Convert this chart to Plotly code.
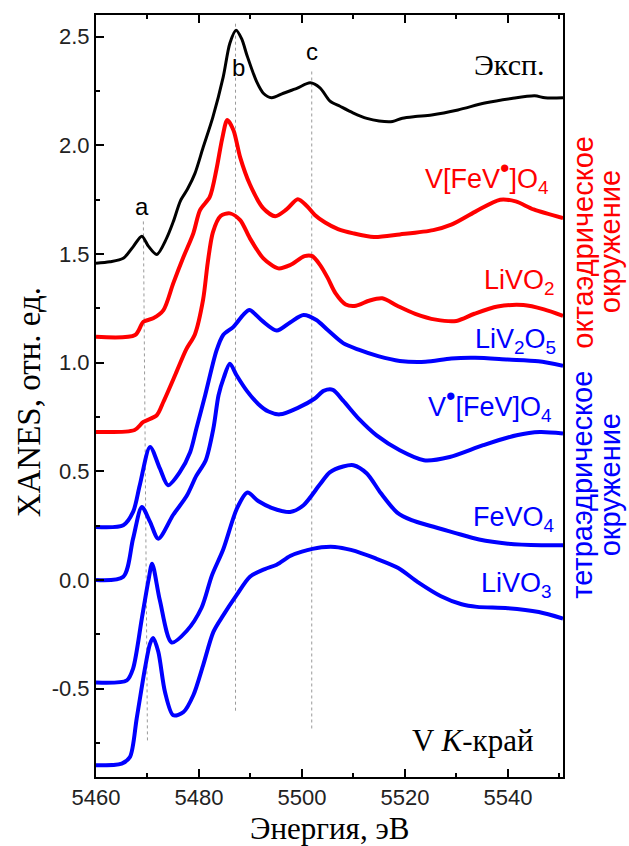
import plotly.graph_objects as go

# ---------------- spectra (energy in eV, normalised XANES, stacked) ----------------
e_exp = [5460, 5462.7, 5465.3, 5467.2, 5468.9, 5470.2, 5471.8, 5473.7, 5475.0, 5476.4,
         5477.8, 5479.2, 5480.8, 5482.7, 5484.7, 5486.0, 5487.2, 5488.3, 5489.3, 5491.2,
         5492.5, 5494.1, 5496.4, 5499.0, 5501.6, 5503.5, 5505.4, 5507.4, 5509.9, 5512.6,
         5515.0, 5517.6, 5519.5, 5522.0, 5525.2, 5530.3, 5535.5, 5540.7, 5545.2, 5547.2, 5550.7]
y_exp = [1.457, 1.464, 1.480, 1.533, 1.582, 1.535, 1.498, 1.572, 1.648, 1.745,
         1.800, 1.870, 1.990, 2.130, 2.314, 2.470, 2.530, 2.490, 2.416, 2.293,
         2.240, 2.219, 2.240, 2.262, 2.288, 2.265, 2.205, 2.180, 2.150, 2.124,
         2.112, 2.110, 2.125, 2.133, 2.140, 2.163, 2.195, 2.216, 2.228, 2.219, 2.219]

e_vfev_oct = [5460, 5467.6, 5469.2, 5471.1, 5473.1, 5475.0, 5477.0, 5478.9, 5480.2, 5482.1,
              5483.4, 5484.5, 5485.5, 5486.7, 5488.0, 5489.9, 5492.5, 5494.8, 5497.0, 5499.2,
              5501.0, 5502.5, 5504.5, 5507.0, 5510.0, 5514.0, 5519.0, 5525.5, 5529.0, 5533.6,
              5538.5, 5541.5, 5545.0, 5550.7]
y_vfev_oct = [1.119, 1.127, 1.188, 1.204, 1.242, 1.365, 1.487, 1.595, 1.702, 1.763,
              1.890, 2.030, 2.117, 2.070, 1.945, 1.820, 1.710, 1.674, 1.705, 1.752,
              1.720, 1.680, 1.645, 1.615, 1.595, 1.578, 1.590, 1.610, 1.635, 1.694,
              1.750, 1.742, 1.705, 1.665]

e_livo2 = [5460, 5467.5, 5469.2, 5471.8, 5473.1, 5475.5, 5477.5, 5479.2, 5480.8, 5481.7,
           5482.7, 5484.2, 5486.0, 5488.0, 5489.9, 5492.5, 5495.4, 5497.7, 5500.5, 5502.0,
           5503.5, 5505.0, 5506.5, 5508.5, 5510.5, 5513.0, 5515.6, 5518.5, 5522.0, 5526.0,
           5530.0, 5533.5, 5538.0, 5543.0, 5547.0, 5550.7]
y_livo2 = [0.681, 0.690, 0.727, 0.758, 0.820, 0.950, 1.060, 1.130, 1.290, 1.460,
           1.600, 1.675, 1.687, 1.656, 1.572, 1.480, 1.434, 1.449, 1.490, 1.490,
           1.450, 1.390, 1.320, 1.268, 1.262, 1.285, 1.296, 1.262, 1.225, 1.198,
           1.192, 1.225, 1.258, 1.265, 1.245, 1.215]

e_liv2o5 = [5460, 5465.3, 5467.2, 5468.5, 5470.5, 5472.4, 5474.0, 5476.3, 5478.3, 5479.5,
            5481.2, 5483.4, 5484.7, 5486.7, 5488.6, 5489.8, 5492.3, 5495.1, 5497.7, 5500.3,
            5502.8, 5505.0, 5508.0, 5511.0, 5514.8, 5519.0, 5524.0, 5529.0, 5533.6, 5540.0,
            5545.9, 5550.7]
y_liv2o5 = [0.244, 0.252, 0.313, 0.436, 0.612, 0.513, 0.436, 0.497, 0.589, 0.697,
            0.850, 1.055, 1.127, 1.165, 1.220, 1.242, 1.192, 1.148, 1.185, 1.219,
            1.196, 1.150, 1.090, 1.060, 1.030, 1.008, 1.004, 1.019, 1.022, 1.014,
            1.006, 0.985]

e_vfev_tet = [5460, 5465.3, 5467.2, 5468.9, 5470.5, 5472.1, 5475.0, 5477.6, 5479.5, 5481.3,
              5482.8, 5483.8, 5484.8, 5486.0, 5487.3, 5489.3, 5491.5, 5493.5, 5495.7, 5499.3,
              5502.5, 5504.2, 5506.0, 5508.0, 5511.3, 5514.5, 5519.0, 5523.7, 5528.7, 5535.2,
              5541.7, 5546.2, 5550.7]
y_vfev_tet = [0.000, 0.015, 0.190, 0.336, 0.267, 0.190, 0.300, 0.386, 0.480, 0.550,
              0.697, 0.850, 0.930, 0.995, 0.942, 0.870, 0.810, 0.775, 0.762, 0.793,
              0.835, 0.870, 0.875, 0.825, 0.735, 0.665, 0.597, 0.551, 0.566, 0.620,
              0.666, 0.681, 0.674]

e_fevo4 = [5460, 5466.0, 5467.2, 5468.9, 5470.2, 5470.9, 5472.4, 5474.7, 5477.6, 5480.5,
           5482.5, 5484.7, 5487.4, 5489.4, 5491.5, 5494.1, 5497.7, 5500.3, 5503.5, 5505.4,
           5508.0, 5510.0, 5512.6, 5515.3, 5518.5, 5521.3, 5525.0, 5529.5, 5534.4, 5540.0,
           5546.5, 5550.7]
y_fevo4 = [-0.472, -0.462, -0.408, -0.178, 0.000, 0.075, -0.094, -0.288, -0.235, -0.128,
           0.020, 0.140, 0.330, 0.402, 0.363, 0.332, 0.313, 0.344, 0.440, 0.495,
           0.522, 0.528, 0.490, 0.400, 0.310, 0.275, 0.248, 0.218, 0.186, 0.167,
           0.160, 0.160]

e_livo3 = [5460, 5465.0, 5466.6, 5467.9, 5469.5, 5470.5, 5471.1, 5472.1, 5473.4, 5475.0,
           5477.0, 5478.9, 5480.8, 5482.8, 5484.7, 5487.3, 5489.9, 5492.8, 5495.1, 5497.7,
           5500.0, 5503.8, 5506.4, 5509.5, 5514.2, 5518.7, 5522.5, 5527.0, 5531.0, 5534.0,
           5540.0, 5546.0, 5550.7]
y_livo3 = [-0.853, -0.845, -0.815, -0.638, -0.408, -0.293, -0.267, -0.331, -0.516, -0.623,
           -0.608, -0.531, -0.393, -0.239, -0.163, -0.070, 0.015, 0.050, 0.070, 0.110,
           0.130, 0.150, 0.152, 0.138, 0.100, 0.055, -0.010, -0.075, -0.112, -0.124,
           -0.130, -0.148, -0.178]

# ---------------- feature markers a, b, c ----------------
feature_names = ["a", "b", "c"]
feature_x_top = [5469.2, 5487.1, 5501.9]
feature_x_bottom = [5470.0, 5487.1, 5501.9]
feature_y_top = [1.65, 2.56, 2.34]
feature_y_bottom = [-0.75, -0.605, -0.69]
feature_label_x = [5469.0, 5487.6, 5501.9]
feature_label_y = [1.72, 2.36, 2.43]

# ---------------- axis ticks ----------------
x_tick_vals = [5460, 5480, 5500, 5520, 5540]
y_tick_vals = [-0.5, 0.0, 0.5, 1.0, 1.5, 2.0, 2.5]
y_tick_text = ["-0.5", "0.0", "0.5", "1.0", "1.5", "2.0", "2.5"]

RED = "#ff0000"
BLUE = "#0000ff"
SANS = "Liberation Sans, Arial, sans-serif"
SERIF = "Liberation Serif, Times New Roman, serif"
DOT = "<sup><span style='font-size:27px'>•</span></sup>"

fig = go.Figure()

for xt, xb, yt, yb in zip(feature_x_top, feature_x_bottom, feature_y_top, feature_y_bottom):
    fig.add_trace(go.Scatter(x=[xt, xb], y=[yt, yb], mode="lines",
                             line=dict(color="#9a9a9a", width=1, dash="dot"),
                             hoverinfo="skip"))

spectra = [
    (e_exp, y_exp, "black", 3),
    (e_vfev_oct, y_vfev_oct, RED, 4),
    (e_livo2, y_livo2, RED, 4),
    (e_liv2o5, y_liv2o5, BLUE, 4),
    (e_vfev_tet, y_vfev_tet, BLUE, 4),
    (e_fevo4, y_fevo4, BLUE, 4),
    (e_livo3, y_livo3, BLUE, 4),
]
for ex, ey, col, w in spectra:
    fig.add_trace(go.Scatter(x=ex, y=ey, mode="lines",
                             line=dict(color=col, width=w, shape="spline", smoothing=0.8)))

annotations = []
for name, lx, ly in zip(feature_names, feature_label_x, feature_label_y):
    annotations.append(dict(x=lx, y=ly, text=name, showarrow=False,
                            font=dict(family=SANS, size=24, color="black"),
                            xanchor="center", yanchor="middle"))

curve_labels = [
    ("Эксп.", 5547.5, 2.37, "black", SERIF, 30),
    ("V[FeV" + DOT + "]O<sub>4</sub>", 5548.4, 1.863, RED, SANS, 27),
    ("LiVO<sub>2</sub>", 5549.6, 1.37, RED, SANS, 27),
    ("LiV<sub>2</sub>O<sub>5</sub>", 5549.8, 1.10, BLUE, SANS, 27),
    ("V" + DOT + "[FeV]O<sub>4</sub>", 5548.9, 0.813, BLUE, SANS, 27),
    ("FeVO<sub>4</sub>", 5549.3, 0.279, BLUE, SANS, 27),
    ("LiVO<sub>3</sub>", 5548.9, -0.024, BLUE, SANS, 27),
    ("V <i>K</i>-край", 5545.4, -0.739, "black", SERIF, 31),
]
for txt, lx, ly, col, fam, size in curve_labels:
    annotations.append(dict(x=lx, y=ly, text=txt, showarrow=False,
                            font=dict(family=fam, size=size, color=col),
                            xanchor="right", yanchor="middle"))

side_labels = [
    ("октаэдрическое", 1.042, 0.702, RED),
    ("окружение", 1.101, 0.702, RED),
    ("тетраэдрическое", 1.042, 0.383, BLUE),
    ("окружение", 1.101, 0.383, BLUE),
]
for txt, px, py, col in side_labels:
    annotations.append(dict(x=px, y=py, xref="paper", yref="paper", text=txt,
                            showarrow=False, textangle=-90,
                            font=dict(family=SANS, size=29, color=col),
                            xanchor="center", yanchor="middle"))

annotations.append(dict(x=-0.143, y=0.492, xref="paper", yref="paper",
                        text="XANES, отн. ед.", showarrow=False, textangle=-90,
                        font=dict(family=SERIF, size=33, color="black"),
                        xanchor="center", yanchor="middle"))
annotations.append(dict(x=0.5, y=-0.067, xref="paper", yref="paper",
                        text="Энергия, эВ", showarrow=False,
                        font=dict(family=SERIF, size=31, color="black"),
                        xanchor="center", yanchor="middle"))

fig.update_layout(
    width=629, height=846,
    margin=dict(l=96, r=66, t=15, b=69),
    paper_bgcolor="white", plot_bgcolor="white",
    showlegend=False,
    annotations=annotations,
    xaxis=dict(range=[5460, 5550.7], tickvals=x_tick_vals, ticks="inside",
               ticklen=8, tickwidth=1.5, tickcolor="black",
               linecolor="black", linewidth=2, mirror="ticks",
               showgrid=False, zeroline=False,
               tickfont=dict(family=SANS, size=22, color="#222"),
               minor=dict(ticks="inside", ticklen=4, tickwidth=1.5, tickcolor="black",
                          dtick=10, tick0=5460, showgrid=False)),
    yaxis=dict(range=[-0.907, 2.6], tickvals=y_tick_vals, ticktext=y_tick_text,
               ticks="inside", ticklen=8, tickwidth=1.5, tickcolor="black",
               linecolor="black", linewidth=2, mirror=True,
               showgrid=False, zeroline=False,
               tickfont=dict(family=SANS, size=22, color="#222"),
               minor=dict(ticks="inside", ticklen=4, tickwidth=1.5, tickcolor="black",
                          dtick=0.25, tick0=0, showgrid=False)),
)

fig.write_html("out.html")
